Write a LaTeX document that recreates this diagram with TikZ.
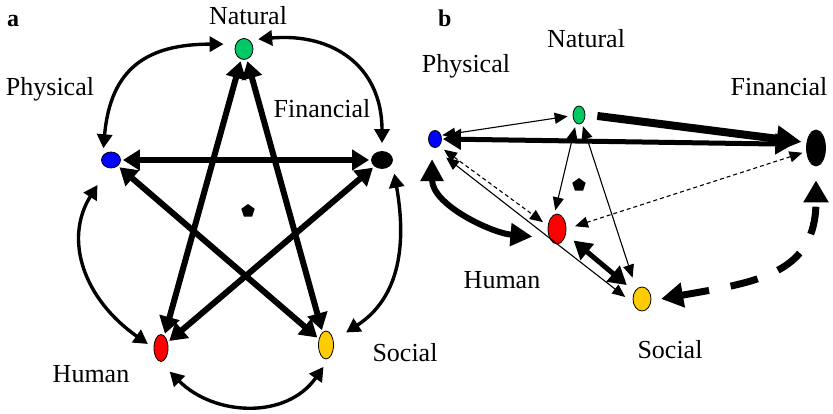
\documentclass[tikz,border=0pt]{standalone}
\usepackage{fontspec}
\setmainfont{Liberation Serif}
\usetikzlibrary{arrows.meta,shapes.geometric}
\definecolor{Gfill}{RGB}{0,200,100}
\definecolor{Bfill}{RGB}{0,0,255}
\definecolor{Rfill}{RGB}{255,0,0}
\definecolor{Yfill}{RGB}{255,204,0}

\begin{document}
\begin{tikzpicture}[x=1pt,y=1pt,
  capnode/.style={ellipse,draw,line width=0.8pt,inner sep=0pt},
  capname/.style={anchor=base,inner sep=0pt,font=\fontsize{26}{30}\selectfont},
  panelname/.style={anchor=base west,inner sep=0pt,font=\bfseries\fontsize{24}{28}\selectfont},
  pentmark/.style={regular polygon,regular polygon sides=5,fill=black,inner sep=0pt,minimum size=14pt},
  starlink/.style={line width=6pt,{Triangle[length=17pt,width=20pt]}-{Triangle[length=17pt,width=20pt]},shorten <=2pt,shorten >=2pt},
  ringlink/.style={line width=3.4pt,{Triangle[length=14pt,width=15pt]}-{Triangle[length=14pt,width=15pt]}},
  thinlink/.style={line width=1.1pt,{Triangle[length=13pt,width=11pt]}-{Triangle[length=13pt,width=11pt]}},
  dashlink/.style={thinlink,dash pattern=on 4pt off 3pt},
  boldlink/.style={line width=5pt,{Triangle[length=18pt,width=20pt]}-{Triangle[length=18pt,width=20pt]}}]
\path[use as bounding box] (0,0) rectangle (833,-414);
% panel a
\node[panelname] (aTag) at (7,-27) {a};
\node[capnode,fill=Gfill,minimum width=18pt,minimum height=21pt] (aNat) at (244,-49) {};
\node[capnode,fill=Bfill,minimum width=19pt,minimum height=16pt] (aPhy) at (111,-160) {};
\node[capnode,fill=black,minimum width=21pt,minimum height=17pt] (aFin) at (382,-160) {};
\node[capnode,fill=Rfill,minimum width=14pt,minimum height=27pt] (aHum) at (161,-348) {};
\node[capnode,fill=Yfill,minimum width=15pt,minimum height=28pt] (aSoc) at (326,-345) {};
\node[pentmark] (aPent) at (248,-211) {};
\node[capname] (aNatLab) at (248,-25) {Natural};
\node[capname] (aPhyLab) at (50,-96) {Physical};
\node[capname] (aFinLab) at (322,-118) {Financial};
\node[capname] (aHumLab) at (91,-382) {Human};
\node[capname] (aSocLab) at (405,-361) {Social};
\draw[starlink] (aNat) -- (aHum);
\draw[starlink] (aNat) -- (aSoc);
\draw[starlink] (aPhy) -- (aFin);
\draw[starlink] (aPhy) -- (aSoc);
\draw[starlink] (aFin) -- (aHum);
\draw[ringlink,shorten <=7pt,shorten >=12pt] (aPhy.150) to[out=85,in=180,looseness=1.3] (aNat.150);
\draw[ringlink,shorten <=9pt,shorten >=8pt] (aNat.60) to[out=5,in=90,looseness=1.25] (aFin.north);
\draw[ringlink,shorten <=11pt,shorten >=15pt] (aFin.-15) to[out=-80,in=33,looseness=1.1] (aSoc.30);
\draw[ringlink,shorten <=12pt,shorten >=14pt] (aSoc.-70) to[out=-125,in=-45,looseness=1.15] (aHum.-95);
\draw[ringlink,shorten <=7pt,shorten >=20pt] (aHum.west) to[out=145,in=238,looseness=1.17] (aPhy.-110);
% panel b
\node[panelname] (bTag) at (438,-27) {b};
\node[capnode,fill=Gfill,minimum width=12pt,minimum height=18pt] (bNat) at (579,-115) {};
\node[capnode,fill=Bfill,minimum width=13pt,minimum height=17pt] (bPhy) at (435,-139) {};
\node[capnode,fill=black,minimum width=19pt,minimum height=36pt] (bFin) at (816,-148) {};
\node[capnode,fill=Rfill,minimum width=18pt,minimum height=30pt] (bHum) at (557,-229) {};
\node[capnode,fill=Yfill,minimum width=18pt,minimum height=24pt] (bSoc) at (642,-299) {};
\node[pentmark] (bPent) at (579,-185) {};
\node[capname] (bNatLab) at (586,-48) {Natural};
\node[capname] (bPhyLab) at (466,-73) {Physical};
\node[capname] (bFinLab) at (779,-96) {Financial};
\node[capname] (bHumLab) at (502,-288) {Human};
\node[capname] (bSocLab) at (670,-358) {Social};
\draw[thinlink,shorten <=1pt,shorten >=5pt] (bPhy.30) -- (bNat.185);
\draw[line width=8pt,-{Triangle[length=25pt,width=25pt]},shorten <=12pt,shorten >=5pt] (bNat.5) -- (bFin.150);
\draw[boldlink,shorten <=1pt,shorten >=13pt] (bPhy.east) -- (bFin.160);
\draw[thinlink,shorten <=4pt,shorten >=4pt] (bNat.-110) -- (bHum.100);
\draw[thinlink,shorten <=3pt,shorten >=12pt] (bNat.-70) -- (bSoc.120);
\draw[dashlink,shorten <=6pt,shorten >=6pt] (bPhy.-60) -- (bHum.160);
\draw[thinlink,shorten <=16pt,shorten >=10pt] (bPhy.-100) -- (bSoc.205);
\draw[dashlink,shorten <=4pt,shorten >=9pt] (bFin.-160) -- (bHum.east);
\draw[boldlink,shorten <=10pt,shorten >=10pt] (bHum.-30) -- (bSoc.135);
\draw[line width=6pt,{Triangle[length=22pt,width=22pt]}-{Triangle[length=22pt,width=22pt]},shorten <=12pt,shorten >=17pt] (bPhy.-110) to[out=-90,in=175] (bHum.230);
\draw[line width=7pt,dash pattern=on 28pt off 22pt,{Triangle[length=22pt,width=24pt]}-{Triangle[length=22pt,width=24pt]},shorten <=10pt,shorten >=14pt] (bSoc.-10) to[out=10,in=-90,looseness=1.3] (bFin.south);
\end{tikzpicture}
\end{document}
